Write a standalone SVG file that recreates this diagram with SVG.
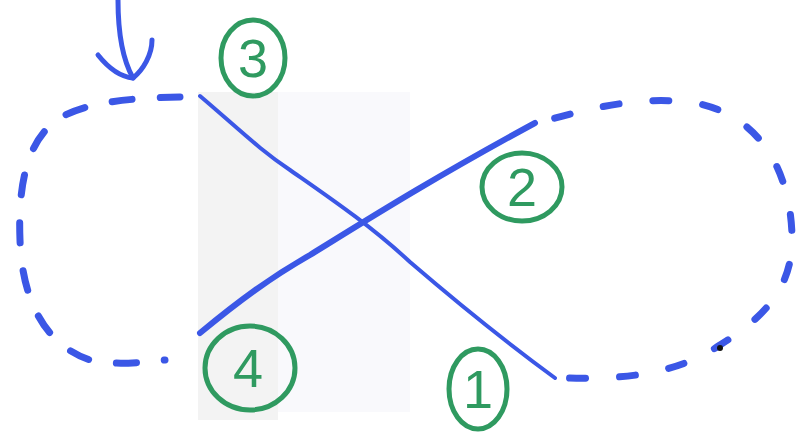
<svg xmlns="http://www.w3.org/2000/svg" width="801" height="445" viewBox="0 0 801 445">
<style>
.b{fill:none;stroke:#3b57e6;stroke-linecap:round;stroke-linejoin:round}
.d{stroke-width:7;stroke-dasharray:20 28}
.g{fill:none;stroke:#2f9a60;stroke-width:5}
.t{fill:#2f9a60;font-family:"Liberation Sans",sans-serif;font-size:54px;text-anchor:middle}
</style>
<rect width="801" height="445" fill="#fff"/>
<rect x="198" y="92" width="80" height="328" fill="#f3f3f3"/>
<rect x="278" y="92" width="132" height="320" fill="#f9f9fc"/>
<g id="arrow">
<path class="b" d="M118,0 C118,35 124,62 133,78" stroke-width="5"/>
<path class="b" d="M98,55 C110,70 122,77 133,78 C143,70 152,55 152,40" stroke-width="5"/>
</g>
<g id="connectors">
<path class="b d" d="M180,97 C140,98 90,100 60,118 C25,140 18,190 20,240 C22,300 45,345 90,360 C115,366 145,362 165,360"/>
<path class="b d" d="M545,121 C600,105 650,95 700,104 C760,118 790,170 792,235 C794,290 760,320 720,345 C680,372 630,380 565,378" style="stroke-dasharray:16 34" stroke-dashoffset="-10"/>
<path class="b" d="M200,96 C240,130 260,150 290,170 C330,198 370,225 410,262 C460,305 510,345 555,378" stroke-width="4"/>
<path class="b" d="M200,333 C240,300 270,278 310,255 C370,218 430,180 535,123" stroke-width="6"/>
<circle cx="720" cy="348" r="3" fill="#111"/>
</g>
<g id="n3"><ellipse class="g" cx="253" cy="58" rx="32" ry="38"/><text class="t" x="253" y="77">3</text></g>
<g id="n2"><ellipse class="g" cx="522" cy="187" rx="40" ry="34"/><text class="t" x="522" y="206">2</text></g>
<g id="n4"><ellipse class="g" cx="250" cy="368" rx="45" ry="42"/><text class="t" x="248" y="387">4</text></g>
<g id="n1"><ellipse class="g" cx="478" cy="389" rx="29" ry="40"/><text class="t" x="478" y="408">1</text></g>
</svg>
